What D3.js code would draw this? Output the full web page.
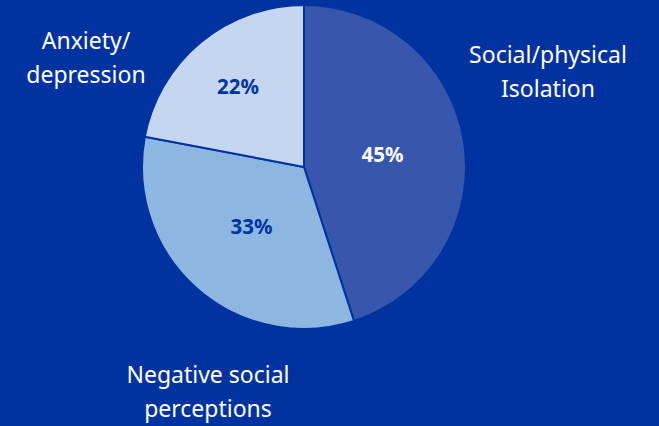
<!DOCTYPE html>
<html>
<head>
<meta charset="utf-8">
<script src="https://cdn.jsdelivr.net/npm/d3@7"></script>
<style>
  html, body { margin: 0; padding: 0; background: #0033a0; }
  svg { display: block; }
</style>
</head>
<body>
<svg id="chart"></svg>
<script>
// slice data, clockwise from 12 o'clock
var categories = ['Social/physical Isolation', 'Negative social perceptions', 'Anxiety/depression'];
var values = [45, 33, 22];
var labelLines = [['Social/physical', 'Isolation'], ['Negative social', 'perceptions'], ['Anxiety/', 'depression']];
var colors = ['#3757ad', '#8db7e0', '#c5d6f1'];
var pctColors = ['#ffffff', '#0033a0', '#0033a0'];

var width = 659, height = 426;
var cx = 304, cy = 167, radius = 162;

var svg = d3.select('#chart')
  .attr('width', width)
  .attr('height', height);

svg.append('rect')
  .attr('width', width)
  .attr('height', height)
  .attr('fill', '#0033a0');

var g = svg.append('g')
  .attr('transform', 'translate(' + cx + ',' + cy + ')');

var data = categories.map(function(c, i) { return {name: c, value: values[i], idx: i}; });

var pie = d3.pie()
  .sort(null)
  .value(function(d) { return d.value; });

var arc = d3.arc().innerRadius(0).outerRadius(radius);

var arcs = pie(data);

g.selectAll('path.slice')
  .data(arcs)
  .enter().append('path')
  .attr('class', 'slice')
  .attr('d', arc)
  .attr('fill', function(d) { return colors[d.data.idx]; })
  .attr('stroke', '#0033a0')
  .attr('stroke-width', 2);

// small slices get their label pushed further out
function labelArc(d) {
  var r = d.data.value < 25 ? radius * 0.64 : radius * 0.49;
  return d3.arc().innerRadius(r).outerRadius(r).centroid(d);
}

g.selectAll('text.pct')
  .data(arcs)
  .enter().append('text')
  .attr('class', 'pct')
  .attr('transform', function(d) { return 'translate(' + labelArc(d) + ')'; })
  .attr('text-anchor', 'middle')
  .attr('dy', '0.35em')
  .attr('font-family', '"Noto Sans", sans-serif')
  .attr('font-weight', 'bold')
  .attr('font-size', 20.5)
  .attr('fill', function(d) { return pctColors[d.data.idx]; })
  .text(function(d) { return d.data.value + '%'; });

// outside category labels (first-line baseline, relative to pie centre)
var labelPos = [[244, -104], [-96, 216], [-218, -118]];

var cat = g.selectAll('text.cat')
  .data(arcs)
  .enter().append('text')
  .attr('class', 'cat')
  .attr('text-anchor', 'middle')
  .attr('font-family', '"Noto Sans", sans-serif')
  .attr('font-size', 23)
  .attr('fill', '#ffffff')
  .attr('transform', function(d) { return 'translate(' + labelPos[d.data.idx] + ')'; });

cat.selectAll('tspan')
  .data(function(d) { return labelLines[d.data.idx]; })
  .enter().append('tspan')
  .attr('x', 0)
  .attr('dy', function(d, i) { return i === 0 ? 0 : 34; })
  .text(function(d) { return d; });
</script>
</body>
</html>
